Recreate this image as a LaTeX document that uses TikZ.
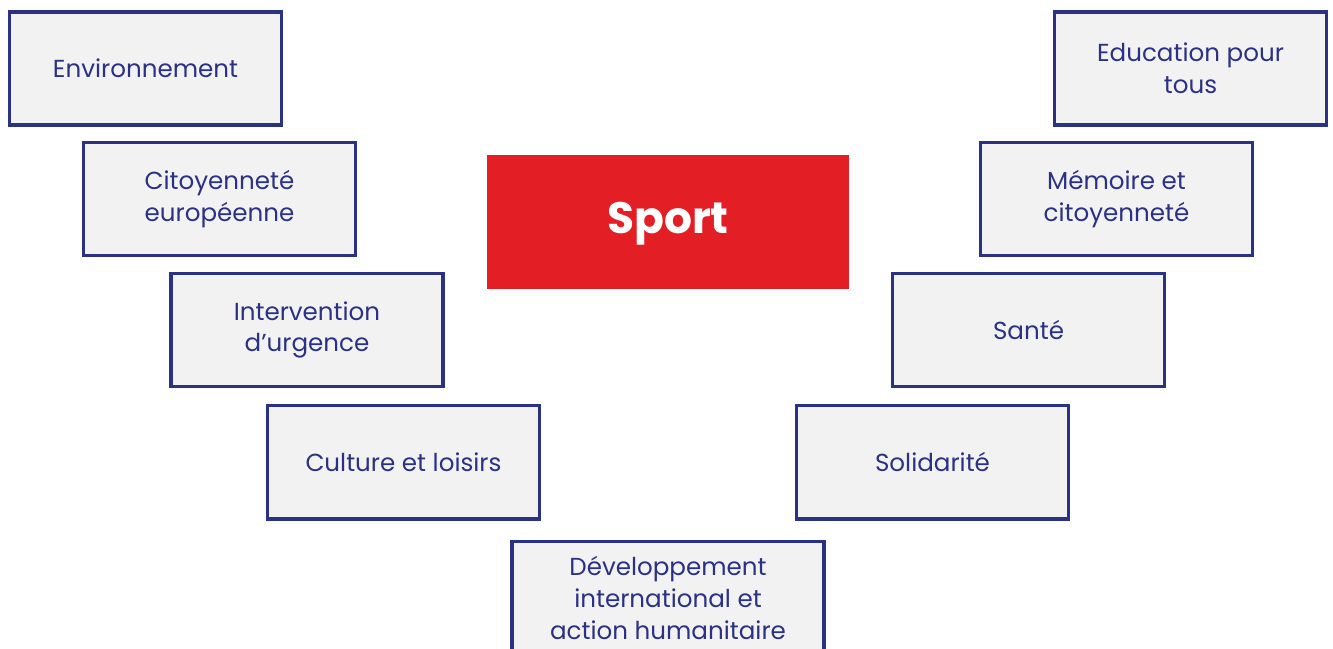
\documentclass[tikz,border=0pt]{standalone}
\usepackage{fontspec}
\setmainfont{Poppins}
\usetikzlibrary{positioning}
\definecolor{navy}{HTML}{2B3183}
\definecolor{boxgray}{HTML}{F2F2F2}
\definecolor{sportred}{HTML}{E31E24}
\tikzstyle{theme} = [draw=navy, fill=boxgray, line width=2pt, text=navy, align=center,
    minimum width=5.44cm, minimum height=2.27cm, inner sep=1mm,
    font=\fontsize{14}{18}\selectfont]
\tikzstyle{sport} = [fill=sportred, text=white, minimum width=7.24cm, minimum height=2.68cm,
    text height=1.3em, text depth=0pt, font=\fontsize{25}{30}\selectfont\bfseries]

\begin{document}
\begin{tikzpicture}[x=0.02cm, y=-0.02cm]
    \useasboundingbox (0,0) rectangle (1333,649);
    %\draw[help lines] (0,0) grid (1333,649);
    \node[sport] (sport) at (668, 222) {Sport};

    % left stairs
    \node[theme] (env) at (145.5, 68.5) {Environnement};
    \node[theme] (cit) at (219.5, 199) {Citoyenneté\\européenne};
    \node[theme] (urg) at (307, 330) {Intervention\\d’urgence};
    \node[theme] (cul) at (403.5, 462) {Culture et loisirs};

    % right stairs
    \node[theme] (edu) at (1190.5, 68.5) {Education pour\\tous};
    \node[theme] (mem) at (1116.5, 199) {Mémoire et\\citoyenneté};
    \node[theme] (san) at (1028.5, 330) {Santé};
    \node[theme] (sol) at (932.5, 462) {Solidarité};

    % bottom
    \node[theme, minimum width=6.25cm] (dev) at (668, 598) {Développement\\international et\\action humanitaire};
\end{tikzpicture}
\end{document}
